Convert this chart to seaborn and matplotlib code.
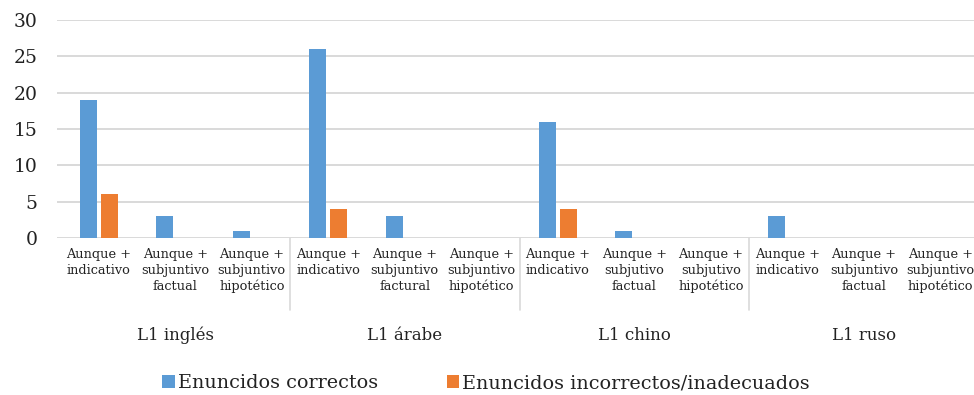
import pandas as pd
import seaborn as sns
import matplotlib.pyplot as plt
from matplotlib.patches import Patch
from matplotlib.transforms import blended_transform_factory

# --- data ---
groups = ["L1 inglés", "L1 árabe", "L1 chino", "L1 ruso"]
subcats = [
    ["Aunque +\nindicativo", "Aunque +\nsubjuntivo\nfactual", "Aunque +\nsubjuntivo\nhipotético"],
    ["Aunque +\nindicativo", "Aunque +\nsubjuntivo\nfactural", "Aunque +\nsubjuntivo\nhipotético"],
    ["Aunque +\nindicativo", "Aunque +\nsubjutivo\nfactual", "Aunque +\nsubjutivo\nhipotético"],
    ["Aunque +\nindicativo", "Aunque +\nsubjuntivo\nfactual", "Aunque +\nsubjuntivo\nhipotético"],
]
correctos = [19, 3, 1, 26, 3, 0, 16, 1, 0, 3, 0, 0]
incorrectos = [6, 0, 0, 4, 0, 0, 4, 0, 0, 0, 0, 0]
series = ["Enuncidos correctos", "Enuncidos incorrectos/inadecuados"]
colors = ["#5B9BD5", "#ED7D31"]
yticks = [0, 5, 10, 15, 20, 25, 30]

# --- long-form table ---
keys, labels = [], []
for g, subs in zip(groups, subcats):
    for s in subs:
        keys.append(f"{g}|{s}")
        labels.append(s)

rows = []
for k, c, i in zip(keys, correctos, incorrectos):
    rows.append({"key": k, "serie": series[0], "valor": c})
    rows.append({"key": k, "serie": series[1], "valor": i})
df = pd.DataFrame(rows)

sns.set_theme(style="white")
plt.rcParams["font.family"] = ["DejaVu Serif"]

W, H = 974, 395
fig = plt.figure(figsize=(W / 100, H / 100), dpi=100)
ax = fig.add_axes([57 / W, 1 - 238 / H, (W - 57) / W, 218 / H])

sns.barplot(data=df, x="key", y="valor", hue="serie", order=keys,
            hue_order=series, palette=colors, width=0.55, gap=0.19,
            saturation=1, legend=False, linewidth=0, ax=ax)

ax.set_xlim(-0.546, 11.44)
ax.set_ylim(0, 30)
ax.set_yticks(yticks)
ax.set_yticklabels([str(v) for v in yticks], fontsize=13.5, color="#222222")
ax.set_xticks(range(len(keys)))
ax.set_xticklabels(labels, fontsize=9.3, linespacing=1.3, color="#222222")
ax.tick_params(axis="x", length=0, pad=7)
ax.tick_params(axis="y", length=0, pad=14)
ax.set_xlabel("")
ax.set_ylabel("")

for sp in ax.spines.values():
    sp.set_visible(False)
ax.set_axisbelow(True)
ax.yaxis.grid(True, color="#D9D9D9", linewidth=1.4)
ax.xaxis.grid(False)

# group separators below the axis
trans = blended_transform_factory(ax.transData, ax.transAxes)
for b in [2.5, 5.5, 8.5]:
    ax.plot([b, b], [0, -72 / 218], color="#D9D9D9", linewidth=1.2,
            transform=trans, clip_on=False)

# group labels
for gi, g in enumerate(groups):
    ax.text(gi * 3 + 1, -97 / 218, g, transform=trans, ha="center",
            va="center", fontsize=12, color="#222222")

handles = [Patch(facecolor=c, edgecolor="none", label=s) for c, s in zip(colors, series)]
fig.legend(handles=handles, loc="center", bbox_to_anchor=(486 / W, 1 - 383 / H),
           ncol=2, frameon=False, fontsize=13.8, handlelength=0.65,
           handleheight=0.65, handletextpad=0.15, columnspacing=3.6,
           labelcolor="#222222")

fig.savefig("out.png", dpi=100)
